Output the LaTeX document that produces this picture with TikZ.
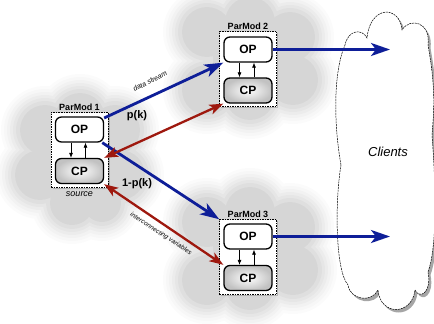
\documentclass[tikz,border=0pt]{standalone}
\usepackage{fontspec}
\setmainfont{Liberation Sans}
\usetikzlibrary{arrows.meta,shadows}

\definecolor{flowblue}{RGB}{14,30,152}
\definecolor{linkred}{RGB}{158,24,14}

% soft grey haze built from stacked unions of circles
\newcommand{\hazeblob}[1]{%
  \foreach \g/\op in {16/0.05,13/0.06,10/0.07,7/0.09,4/0.11,1/0.13,-3/0.2}{%
    \begin{scope}[transparency group, opacity=\op]
      \foreach \cx/\cy/\r in {#1}
        \fill[gray!60] (\cx,\cy) circle[radius=\r+\g];
    \end{scope}
  }%
}

\tikzset{
  opbox/.style={draw, line width=1.3pt, rounded corners=6pt, fill=white,
    minimum width=48pt, minimum height=25pt, inner sep=0pt,
    font=\bfseries\fontsize{12}{12}\selectfont},
  cpbox/.style={opbox, inner color=white, outer color=gray!48},
  pmbox/.style={draw, line width=0.6pt, dash pattern=on 1.5pt off 1pt, fill=white,
    minimum width=57pt, minimum height=75pt, inner sep=0pt,
    drop shadow={shadow xshift=1.5pt, shadow yshift=-1.5pt, opacity=0.45}},
  pmlabel/.style={font=\bfseries\fontsize{9}{9}\selectfont, inner sep=1pt},
  flow/.style={draw=flowblue, line width=2.8pt,
    -{Stealth[length=19pt, width=13pt, inset=5pt]}},
  link/.style={draw=linkred, line width=2.3pt,
    {Stealth[length=14pt, width=10pt, inset=3.5pt]}-{Stealth[length=14pt, width=10pt, inset=3.5pt]}},
  inner/.style={line width=0.7pt, -{Latex[length=5pt, width=4pt]}},
  prob/.style={font=\bfseries\fontsize{11}{11}\selectfont},
  note/.style={font=\itshape\fontsize{7}{7}\selectfont, inner sep=0pt},
}

\begin{document}
\begin{tikzpicture}[x=1pt, y=-1pt]
\useasboundingbox (0,0) rectangle (434,324);

% haze around the three modules
\hazeblob{45/130/28, 40/175/28, 80/118/28, 115/130/28, 120/175/28, 72/203/25, 102/203/22, 80/160/40}
\hazeblob{207/32/28, 250/22/28, 290/37/28, 293/80/28, 250/95/28, 207/90/28, 250/60/40}
\hazeblob{207/222/28, 250/212/28, 290/227/28, 293/270/28, 250/285/28, 207/280/28, 250/250/40}

% the clients cloud
\path[draw, line width=0.5pt, dash pattern=on 2pt off 0.8pt, fill=white,
      drop shadow={shadow xshift=2.5pt, shadow yshift=-3pt, opacity=0.7}]
  (341,165) .. controls (333,120) and (334,70) .. (345,45)
  .. controls (348,30) and (362,28) .. (367,38)
  .. controls (370,5) and (400,5) .. (402,30)
  .. controls (410,17) and (431,22) .. (428,45)
  .. controls (436,90) and (434,110) .. (432,135)
  .. controls (437,200) and (436,250) .. (428,272)
  .. controls (432,292) and (420,300) .. (415,290)
  .. controls (412,316) and (380,316) .. (378,290)
  .. controls (372,303) and (350,300) .. (348,285)
  .. controls (335,270) and (335,200) .. (341,165) -- cycle;
\node[font=\itshape\fontsize{13}{13}\selectfont] (clients) at (388,152) {Clients};
\coordinate (in2) at (390,49.5);
\coordinate (in3) at (390,236.5);

% module frames
\node[pmbox] (pm1) at (79.5,150) {};
\node[pmbox] (pm2) at (248,69) {};
\node[pmbox] (pm3) at (248,257) {};
\node[pmlabel, above=0.5pt] (l1) at (pm1.north) {ParMod 1};
\node[pmlabel, above=0.5pt] (l2) at (pm2.north) {ParMod 2};
\node[pmlabel, above=0.5pt] (l3) at (pm3.north) {ParMod 3};
\node[font=\itshape\fontsize{9}{9}\selectfont, below=0pt] (src) at (pm1.south) {source};

% OP / CP pairs
\node[opbox] (op1) at (79.5,129.5) {OP};
\node[cpbox] (cp1) at (79.5,171) {CP};
\node[opbox] (op2) at (248,49.5) {OP};
\node[cpbox] (cp2) at (248,90.5) {CP};
\node[opbox] (op3) at (248,236.5) {OP};
\node[cpbox] (cp3) at (248,278) {CP};

\foreach \m in {1,2,3}{
  \draw[inner] ([xshift=-8.5pt]op\m.south) -- ([xshift=-8.5pt]cp\m.north);
  \draw[inner] ([xshift=6pt]cp\m.north) -- ([xshift=6pt]op\m.south);
}

% data streams
\draw[flow] (op1.25) -- (op2.south west);
\draw[flow] (op1.-30) -- (pm3.north west);
\draw[flow] (op2.east) -- (in2);
\draw[flow] (op3.east) -- (in3);

% interconnecting variables
\draw[link] (cp1.north east) -- (cp2.south west);
\draw[link] (cp1.south east) -- (cp3.north west);

% labels
\node[prob] (pk) at (137,116) {p(k)};
\node[prob] (qk) at (137,184) {1-p(k)};
\node[note, rotate=27] (ds) at (150,81) {data stream};
\node[note, font=\itshape\fontsize{6.5}{6.5}\selectfont, rotate=-33] (iv) at (161,234) {interconnecting variables};
\end{tikzpicture}
\end{document}
